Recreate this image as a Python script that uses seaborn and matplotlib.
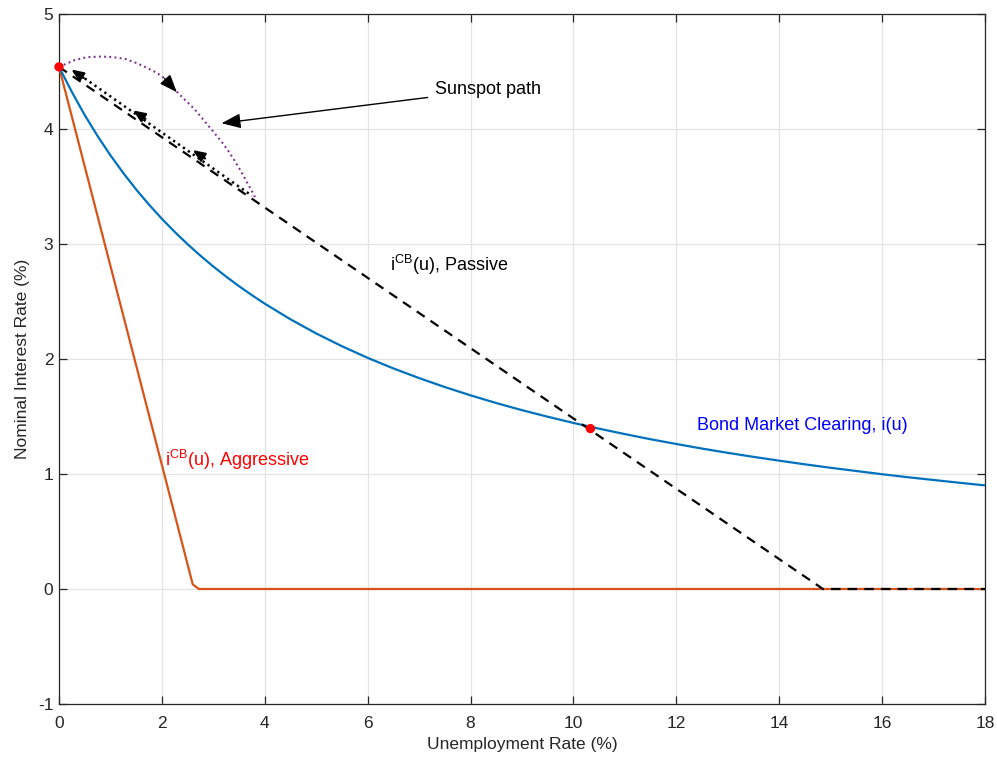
import matplotlib
matplotlib.use("Agg")
import numpy as np
import pandas as pd
import seaborn as sns
import matplotlib.pyplot as plt

# Bond market clearing curve i(u)
u_bond = [0, 0.25, 0.5, 0.75, 1, 1.25, 1.5, 1.75, 2, 2.25, 2.5, 2.75, 3, 3.25, 3.5, 3.75, 4,
          4.5, 5, 5.5, 6, 6.5, 7, 7.5, 8, 8.5, 9, 9.5, 10, 10.5, 11, 11.5, 12, 12.5, 13,
          13.5, 14, 14.5, 15, 15.5, 16, 16.5, 17, 17.5, 18]
i_bond = [4.540, 4.322, 4.121, 3.939, 3.771, 3.617, 3.474, 3.342, 3.219, 3.105, 2.998,
          2.898, 2.804, 2.716, 2.633, 2.555, 2.481, 2.345, 2.222, 2.111, 2.010, 1.918,
          1.834, 1.756, 1.684, 1.617, 1.555, 1.498, 1.444, 1.394, 1.347, 1.302, 1.261,
          1.221, 1.184, 1.149, 1.116, 1.084, 1.054, 1.026, 0.998, 0.972, 0.948, 0.924, 0.901]

# Central bank rules
u_passive = [0, 14.85, 18]
i_passive = [4.54, 0.0, 0.0]
u_aggr = [0, 2.6, 2.72, 18]
i_aggr = [4.54, 0.04, 0.0, 0.0]

# Sunspot path and return path
u_sun = [0, 0.31, 0.55, 0.83, 1.05, 1.28, 1.5, 1.67, 1.85, 2.0, 2.16, 2.32, 2.48, 2.64,
         2.77, 2.90, 3.03, 3.16, 3.29, 3.42, 3.54, 3.65, 3.75, 3.84]
i_sun = [4.54, 4.60, 4.625, 4.63, 4.625, 4.61, 4.575, 4.54, 4.50, 4.46, 4.39, 4.31,
         4.24, 4.17, 4.10, 4.03, 3.96, 3.89, 3.81, 3.72, 3.63, 3.54, 3.46, 3.38]
u_back = [0.31, 3.75]
i_back = [4.50, 3.42]
u_back_arrows = [0.41, 1.61, 2.77]
i_back_arrows = [4.465, 4.11, 3.765]

# Steady states
u_eq = [0, 10.33]
i_eq = [4.54, 1.395]

x_ticks = [0, 2, 4, 6, 8, 10, 12, 14, 16, 18]
y_ticks = [-1, 0, 1, 2, 3, 4, 5]

sns.set_theme(style="whitegrid")
plt.rcParams["font.family"] = ["Liberation Sans", "DejaVu Sans"]
plt.rcParams["mathtext.fontset"] = "custom"
plt.rcParams["mathtext.rm"] = "Liberation Sans"
plt.rcParams["mathtext.it"] = "Liberation Sans"

fig = plt.figure(figsize=(9.97, 7.61), dpi=100)
ax = fig.add_axes([59 / 997, 1 - 704 / 761, 926 / 997, 690 / 761])

axis_col = "#262626"
lw = 1.6

sns.lineplot(x=u_aggr, y=i_aggr, ax=ax, color="#D95319", lw=lw, sort=False, estimator=None, zorder=3)
sns.lineplot(x=u_bond, y=i_bond, ax=ax, color="#0072BD", lw=lw, sort=False, estimator=None, zorder=3)
sns.lineplot(x=u_passive, y=i_passive, ax=ax, color="black", lw=lw, sort=False, estimator=None, zorder=4)
ax.lines[-1].set_dashes((4.3, 3.2))
sns.lineplot(x=u_sun, y=i_sun, ax=ax, color="#7E2F8E", lw=1.5, sort=False, estimator=None, zorder=4)
ax.lines[-1].set_dashes((0.9, 1.6))
sns.lineplot(x=u_back, y=i_back, ax=ax, color="black", lw=1.8, sort=False, estimator=None, zorder=4)
ax.lines[-1].set_dashes((0.9, 1.5))

# arrowheads on the return path, pointing back toward the start
for ua, ia in zip(u_back_arrows, i_back_arrows):
    ax.annotate("", xy=(ua - 0.17, ia + 0.052), xytext=(ua + 0.07, ia - 0.021),
                arrowprops=dict(arrowstyle="-|>,head_length=0.6,head_width=0.25",
                                color="black", lw=1.6, shrinkA=0, shrinkB=0), zorder=5)

# arrowhead on the sunspot path
ax.annotate("", xy=(2.29, 4.32), xytext=(2.05, 4.44),
            arrowprops=dict(arrowstyle="-|>,head_length=0.9,head_width=0.35",
                            color="black", lw=1.0, shrinkA=0, shrinkB=0), zorder=5)

sns.scatterplot(x=u_eq, y=i_eq, ax=ax, color="#FF0000", s=45, edgecolor="none",
                zorder=6, clip_on=False)

# labels
ax.annotate("Sunspot path", xy=(3.16, 4.05), xytext=(7.31, 4.34),
            fontsize=13, color="black", va="center", ha="left",
            arrowprops=dict(arrowstyle="-|>,head_length=0.9,head_width=0.35",
                            color="black", lw=1.0, shrinkA=3, shrinkB=0))
ax.text(6.43, 2.82, r"i$^{\rm CB}$(u), Passive", fontsize=13, color="black", va="center", ha="left")
ax.text(2.06, 1.12, r"i$^{\rm CB}$(u), Aggressive", fontsize=13, color="#FF0000", va="center", ha="left")
ax.text(12.40, 1.42, "Bond Market Clearing, i(u)", fontsize=13, color="#0000FF", va="center", ha="left")

ax.set_xlim(0, 18)
ax.set_ylim(-1, 5)
ax.set_xticks(x_ticks)
ax.set_yticks(y_ticks)
ax.set_xticklabels([str(t) for t in x_ticks])
ax.set_yticklabels([str(t) for t in y_ticks])
ax.set_xlabel("Unemployment Rate (%)", fontsize=12.5, color=axis_col, labelpad=4)
ax.set_ylabel("Nominal Interest Rate (%)", fontsize=12.5, color=axis_col, labelpad=6)

ax.set_facecolor("white")
ax.grid(True, color="#E3E3E3", lw=0.9)
ax.set_axisbelow(True)
for sp in ax.spines.values():
    sp.set_visible(True)
    sp.set_color(axis_col)
    sp.set_linewidth(0.9)
ax.tick_params(axis="both", which="both", direction="in", length=6, width=0.9,
               colors=axis_col, labelsize=12.5, top=True, right=True,
               bottom=True, left=True, pad=4)
ax.tick_params(axis="x", pad=9)

fig.savefig("out.png", dpi=100, facecolor="white")
